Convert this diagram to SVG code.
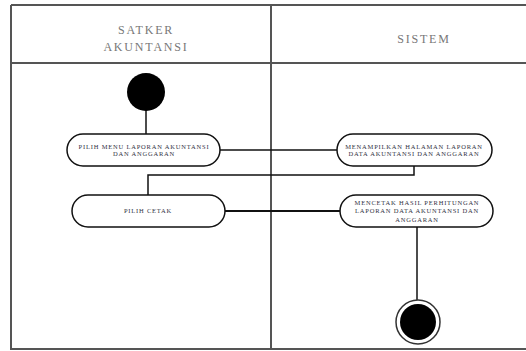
<svg xmlns="http://www.w3.org/2000/svg" width="526" height="351" viewBox="0 0 526 351">
<style>
.frame{fill:none;stroke:#555;stroke-width:2}
.node{fill:#fff;stroke:#111;stroke-width:1.5}
.conn{fill:none;stroke:#111;stroke-width:1.5}
.hdr{font-family:"Liberation Serif",serif;font-size:12px;fill:#777;text-anchor:middle;letter-spacing:1.8px}
.lbl{font-family:"Liberation Serif",serif;font-size:6.5px;fill:#334;text-anchor:middle;letter-spacing:0.8px}
</style>
<rect width="526" height="351" fill="#fff"/>
<g id="lanes">
<path class="frame" d="M11 5 H526 M11 5 V349 H526 M11 63 H526 M271 5 V349"/>
<text class="hdr" x="146" y="34">SATKER</text>
<text class="hdr" x="146" y="51">AKUNTANSI</text>
<text class="hdr" x="424" y="43">SISTEM</text>
</g>
<g id="connectors">
<path class="conn" d="M146 110 V134"/>
<path class="conn" d="M220 150 H337"/>
<path class="conn" d="M414 166 V175 H148 V195"/>
<path class="conn" d="M225 211 H340" style="stroke-width:2"/>
<path class="conn" d="M417 227 V300"/>
</g>
<g id="start"><circle cx="146" cy="92" r="19" fill="#000"/></g>
<g id="n1">
<rect class="node" x="67" y="134" width="153" height="32" rx="16"/>
<text class="lbl" x="144" y="149">PILIH MENU LAPORAN AKUNTANSI</text>
<text class="lbl" x="144" y="156">DAN ANGGARAN</text>
</g>
<g id="n2">
<rect class="node" x="337" y="134" width="155" height="32" rx="16"/>
<text class="lbl" x="414" y="149">MENAMPILKAN HALAMAN LAPORAN</text>
<text class="lbl" x="414" y="156">DATA AKUNTANSI DAN ANGGARAN</text>
</g>
<g id="n3">
<rect class="node" x="72" y="195" width="153" height="32" rx="16"/>
<text class="lbl" x="148" y="213">PILIH CETAK</text>
</g>
<g id="n4">
<rect class="node" x="340" y="195" width="153" height="32" rx="16"/>
<text class="lbl" x="417" y="205">MENCETAK HASIL PERHITUNGAN</text>
<text class="lbl" x="417" y="213">LAPORAN DATA AKUNTANSI DAN</text>
<text class="lbl" x="417" y="222">ANGGARAN</text>
</g>
<g id="end">
<circle cx="418" cy="322" r="22" fill="#fff" stroke="#333" stroke-width="1.5"/>
<circle cx="418" cy="322" r="18" fill="#000"/>
</g>
</svg>
